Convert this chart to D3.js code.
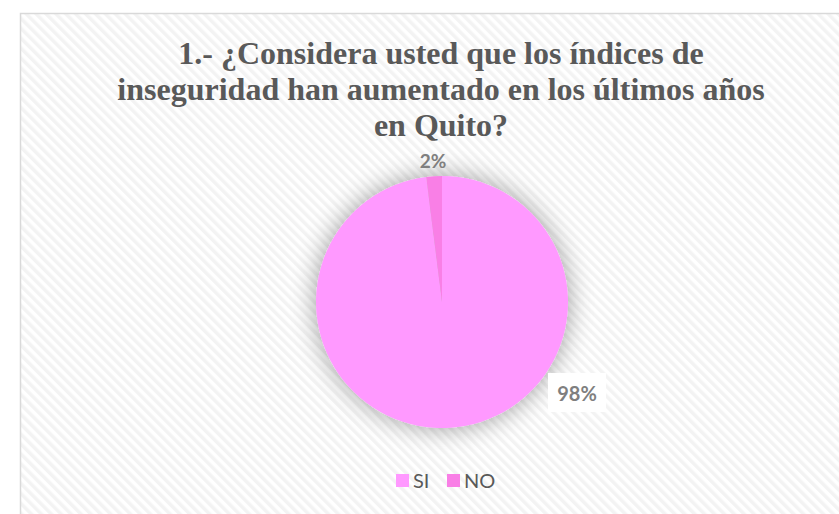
<!DOCTYPE html>
<html><head><meta charset="utf-8">
<script src="https://cdn.jsdelivr.net/npm/d3@7/dist/d3.min.js"></script>
<style>html,body{margin:0;padding:0;background:#fff;overflow:hidden}</style>
</head><body>
<script>
const categories = ["SI", "NO"];
const values = [98, 2];
const labels = ["98%", "2%"];
const colors = ["#FF99FF", "#F97FE6"];
const titleLines = ["1.- ¿Considera usted que los índices de", "inseguridad han aumentado en los últimos años", "en Quito?"];

const W = 839, H = 514;
const svg = d3.select("body").append("svg").attr("width", W).attr("height", H);
const defs = svg.append("defs");
const pat = defs.append("pattern").attr("id", "stripes").attr("patternUnits", "userSpaceOnUse")
  .attr("width", 7).attr("height", 7).attr("patternTransform", "rotate(-45)");
pat.append("rect").attr("width", 7).attr("height", 7).attr("fill", "#ffffff");
pat.append("rect").attr("width", 3.5).attr("height", 7).attr("fill", "#f3f3f3");
const f = defs.append("filter").attr("id", "shadow").attr("x", "-40%").attr("y", "-40%").attr("width", "180%").attr("height", "180%");
f.append("feGaussianBlur").attr("in", "SourceAlpha").attr("stdDeviation", 13).attr("result", "b");
f.append("feComponentTransfer").attr("in", "b").attr("result", "s")
  .append("feFuncA").attr("type", "linear").attr("slope", 0.38);
const fm = f.append("feMerge");
fm.append("feMergeNode").attr("in", "s");
fm.append("feMergeNode").attr("in", "SourceGraphic");

svg.append("rect").attr("x", 20.5).attr("y", 13.5).attr("width", W).attr("height", H)
  .attr("fill", "url(#stripes)").attr("stroke", "#d9d9d9").attr("stroke-width", 1.5);

const title = svg.append("text").attr("text-anchor", "middle")
  .attr("font-family", "'Liberation Serif','Times New Roman',serif").attr("font-weight", "bold")
  .attr("font-size", 32).attr("fill", "#595959");
titleLines.forEach((t, i) => title.append("tspan").attr("x", 441).attr("y", 64 + i * 36).text(t));

const cx = 442, cy = 302, r = 126;
const pie = d3.pie().sort(null).value(d => d)(values);
const arc = d3.arc().innerRadius(0).outerRadius(r);
const g = svg.append("g").attr("transform", `translate(${cx},${cy})`);
g.append("g").attr("filter", "url(#shadow)").selectAll("path").data(pie).join("path")
  .attr("d", arc).attr("fill", (d, i) => colors[i]);

const lblFont = "Lato,'Open Sans',sans-serif";
const l98 = g.append("g").attr("transform", `translate(${577 - cx},${393 - cy})`);
l98.append("rect").attr("x", -29).attr("y", -20).attr("width", 58).attr("height", 39).attr("fill", "#fff");
l98.append("text").attr("text-anchor", "middle").attr("y", 8).attr("font-family", lblFont)
  .attr("font-weight", "bold").attr("font-size", 20).attr("fill", "#7f7f7f").text(labels[0]);
g.append("text").attr("text-anchor", "middle").attr("x", 433 - cx).attr("y", 168 - cy)
  .attr("font-family", lblFont).attr("font-weight", "bold").attr("font-size", 19)
  .attr("fill", "#7f7f7f").text(labels[1]);

const leg = svg.append("g").attr("font-family", lblFont).attr("font-size", 20).attr("fill", "#595959");
const legX = [396, 447];
categories.forEach((c, i) => {
  leg.append("rect").attr("x", legX[i]).attr("y", 474).attr("width", 13).attr("height", 13).attr("fill", colors[i]);
  leg.append("text").attr("x", legX[i] + 17).attr("y", 488).text(c);
});
</script>
</body></html>
